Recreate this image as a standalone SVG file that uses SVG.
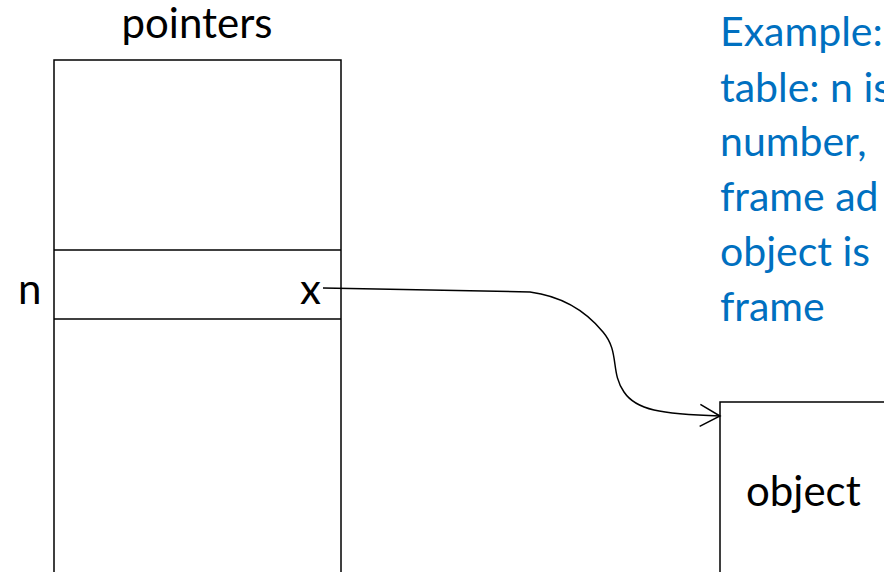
<svg xmlns="http://www.w3.org/2000/svg" width="884" height="572" viewBox="0 0 884 572">
<style>
.t{font-family:Lato,"Open Sans","Liberation Sans",sans-serif;font-size:42px;fill:#000}
.b{font-family:Lato,"Open Sans","Liberation Sans",sans-serif;font-size:41px;fill:#0070C0}
.box{fill:#fff;stroke:#000;stroke-width:1.5}
.ln{fill:none;stroke:#000;stroke-width:1.5}
</style>
<defs>
<marker id="arr" markerWidth="24" markerHeight="24" refX="21" refY="12" orient="auto" markerUnits="userSpaceOnUse">
<path d="M1,1 L21,12 L1,23" fill="none" stroke="#000" stroke-width="1.5"/>
</marker>
</defs>
<rect width="884" height="572" fill="#fff"/>
<g id="pointers-table">
<rect class="box" x="54" y="60" width="287" height="540"/>
<line class="ln" x1="54" y1="250" x2="341" y2="250"/>
<line class="ln" x1="54" y1="319" x2="341" y2="319"/>
<text class="t" x="197" y="38" text-anchor="middle">pointers</text>
<text class="t" x="18" y="304">n</text>
<text class="t" x="300" y="304">x</text>
</g>
<g id="object">
<rect class="box" x="720" y="402" width="200" height="200"/>
<text class="t" x="746" y="506">object</text>
</g>
<g id="note">
<text class="b" x="720" y="46">Example:</text>
<text class="b" x="720" y="102">table: n is</text>
<text class="b" x="720" y="156">number,</text>
<text class="b" x="720" y="211">frame ad</text>
<text class="b" x="720" y="266">object is</text>
<text class="b" x="720" y="321">frame</text>
</g>
<g id="connectors">
<path class="ln" marker-end="url(#arr)" d="M323,288 L530,292 C560,296 585,310 603,332 C620,352 610,372 624,392 C636,410 660,414 720,416"/>
</g>
</svg>
